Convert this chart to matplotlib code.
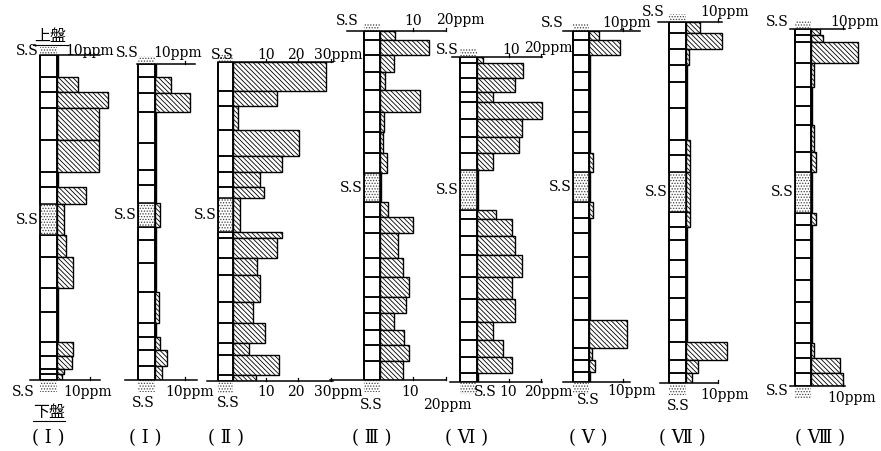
import numpy as np
import matplotlib.pyplot as plt
from matplotlib.patches import Rectangle
from matplotlib.lines import Line2D

plt.rcParams['font.family'] = ['DejaVu Serif', 'Noto Sans CJK JP']
plt.rcParams['hatch.linewidth'] = 0.6

W, H = 881, 451

# sample interval thickness (top -> bottom) and content (ppm) for each section
# ss_* = index of the S.S interval
thick_1 = [22, 15, 16, 32, 32, 15, 17, 31, 22, 31, 24, 30, 14, 13, 5, 6]
ppm_1 = [0.4, 6.3, 15.5, 12.7, 12.7, 0.4, 8.8, 2.1, 2.7, 4.8, 0.4, 0.4, 4.8, 4.5, 2.0, 1.5]
ss_1 = 7

thick_2 = [13, 16, 19, 31, 27, 15, 18, 24, 13, 23, 29, 31, 14, 13, 16, 14]
ppm_2 = [0.4, 5.3, 11.7, 0.4, 0.4, 0.4, 0.4, 1.7, 0.4, 0.4, 0.4, 1.3, 0.4, 1.7, 4.0, 2.3]
ss_2 = 7

thick_3 = [29, 15, 24, 26, 16, 15, 11, 34, 6, 20, 17, 27, 21, 20, 12, 20, 6]
ppm_3 = [28.6, 13.5, 1.5, 20.3, 15.0, 8.3, 9.5, 2.1, 15.0, 13.5, 7.4, 8.3, 6.2, 9.8, 4.9, 14.0, 7.2]
ss_3 = 7

thick_4 = [9, 15, 17, 18, 22, 20, 21, 20, 29, 15, 16, 25, 19, 20, 16, 17, 15, 16, 19]
ppm_4 = [4.6, 14.8, 4.3, 1.5, 12.0, 1.2, 1.0, 2.2, 0.3, 2.5, 10.0, 5.6, 7.0, 8.9, 8.0, 4.3, 7.4, 8.9, 7.0]
ss_4 = 8

thick_5 = [6, 15, 14, 10, 17, 18, 16, 17, 40, 9, 17, 19, 22, 22, 23, 18, 17, 16, 9]
ppm_5 = [2.0, 14.3, 11.9, 5.1, 20.3, 14.0, 13.1, 5.1, 0.3, 5.9, 11.0, 12.0, 14.0, 11.0, 11.9, 5.0, 8.1, 11.0, 0.3]
ss_5 = 8

thick_6 = [9, 15, 17, 18, 22, 20, 21, 19, 30, 16, 15, 24, 20, 21, 22, 28, 12, 12, 10]
ppm_6 = [3.0, 9.0, 0.4, 0.4, 0.4, 0.4, 0.4, 1.2, 0.3, 1.2, 0.4, 0.4, 0.4, 0.4, 0.4, 11.3, 1.0, 1.8, 0.4]
ss_6 = 8

thick_7 = [11, 16, 16, 17, 26, 32, 15, 17, 40, 15, 13, 20, 17, 21, 22, 22, 18, 13, 10]
ppm_7 = [4.4, 11.2, 1.0, 0.4, 0.4, 0.4, 1.2, 1.2, 1.2, 1.2, 0.4, 0.4, 0.4, 0.4, 0.4, 0.4, 12.8, 3.8, 1.9]
ss_7 = 8

thick_8 = [6, 7, 21, 24, 19, 19, 27, 20, 41, 12, 15, 18, 22, 22, 21, 20, 15, 15, 13]
ppm_8 = [2.8, 3.7, 14.7, 1.0, 0.4, 0.4, 1.0, 1.5, 0.3, 1.5, 0.4, 0.4, 0.4, 0.4, 0.4, 0.4, 0.9, 9.0, 10.0]
ss_8 = 8

section_names = ['( Ⅰ )', '( Ⅰ )', '( Ⅱ )', '( Ⅲ )', '( Ⅵ )', '( Ⅴ )', '( Ⅶ )', '( Ⅷ )']
scale_ticks = [[10], [10], [10, 20, 30], [10, 20], [10, 20], [10], [10], [10]]

# panel placement in pixels: strip left, zero line, top, bottom, px per ppm,
# top scale line (l, r), bottom scale line (l, r)
layout = [
    dict(left=40, zero=57, top=55, bot=380, s=3.3, tl=(40, 100), bl=(30, 100)),
    dict(left=138, zero=155, top=64, bot=380, s=3.0, tl=(137, 195), bl=(125, 197)),
    dict(left=218, zero=233, top=62, bot=381, s=3.25, tl=(218, 333), bl=(207, 333)),
    dict(left=364, zero=380, top=31, bot=380, s=3.3, tl=(347, 446), bl=(330, 446)),
    dict(left=460, zero=477, top=57, bot=382, s=3.2, tl=(452, 542), bl=(450, 542)),
    dict(left=573, zero=589, top=31, bot=382, s=3.4, tl=(563, 640), bl=(563, 630)),
    dict(left=669, zero=686, top=22, bot=383, s=3.2, tl=(658, 722), bl=(660, 718)),
    dict(left=795, zero=811, top=29, bot=386, s=3.2, tl=(790, 845), bl=(790, 845)),
]

sections = [
    (thick_1, ppm_1, ss_1), (thick_2, ppm_2, ss_2), (thick_3, ppm_3, ss_3),
    (thick_4, ppm_4, ss_4), (thick_5, ppm_5, ss_5), (thick_6, ppm_6, ss_6),
    (thick_7, ppm_7, ss_7), (thick_8, ppm_8, ss_8),
]

fig = plt.figure(figsize=(W / 100, H / 100), dpi=100)
fig.patch.set_facecolor('white')


def ftext(x, y, s, size=10, **kw):
    kw.setdefault('ha', 'center')
    fig.text(x / W, 1 - y / H, s, va='center', fontsize=size, **kw)


def stipple(ax, x, y, w, h):
    ax.add_patch(Rectangle((x, y), w, h, facecolor='white', edgecolor='0.25',
                           hatch='......', lw=0, clip_on=False))


for (th, vals, ss), lay, ticks in zip(sections, layout, scale_ticks):
    zero, s = lay['zero'], lay['s']
    right = max(lay['tl'][1], lay['bl'][1], zero + s * max(vals)) + 3
    left = min(lay['tl'][0], lay['bl'][0]) - 2
    ax = fig.add_axes([left / W, 1 - lay['bot'] / H, (right - left) / W,
                       (lay['bot'] - lay['top']) / H])
    ax.set_xlim((left - zero) / s, (right - zero) / s)
    depth = np.concatenate([[0], np.cumsum(th)])
    total = depth[-1]
    ax.set_ylim(total, 0)
    ax.axis('off')
    sw = (zero - lay['left']) / s

    for i, v in enumerate(vals):
        y0, h = depth[i], th[i]
        if i == ss:
            stipple(ax, -sw, y0, sw, h)
            ax.add_patch(Rectangle((-sw, y0), sw, h, fill=False, edgecolor='black', lw=0.6))
        else:
            ax.add_patch(Rectangle((-sw, y0), sw, h, fill=False, edgecolor='black', lw=1.1))
        ax.add_patch(Rectangle((0, y0), v, h, facecolor='white', edgecolor='black',
                               hatch='\\' * 7, lw=1.0))
    ax.plot([-sw, -sw], [0, total], color='black', lw=1.3)
    ax.plot([0, 0], [0, total], color='black', lw=1.1)

    # scale lines at top and bottom
    for yy, (l, r) in [(0, lay['tl']), (total, lay['bl'])]:
        ax.plot([(l - zero) / s, (r - zero) / s], [yy, yy], color='black', lw=1.1, clip_on=False)
        for t in ticks:
            ax.plot([t, t], [yy, yy - 3], color='black', lw=0.9, clip_on=False)

    # stippled S.S marks above and below the strip
    stipple(ax, -sw, -8, sw, 8)
    stipple(ax, -sw, total, sw, 12)

    # S.S label beside the S.S interval
    ax.text(-sw - 0.4, depth[ss] + th[ss] / 2, 'S.S', ha='right', va='center', fontsize=10)

# section I
ftext(50, 36, '上盤', size=11.5)
fig.add_artist(Line2D([33 / W, 68 / W], [1 - 45 / H, 1 - 45 / H], color='black', lw=0.8))
ftext(27, 51, 'S.S')
ftext(90, 51, '10ppm')
ftext(23, 392, 'S.S')
ftext(88, 392, '10ppm')
ftext(49, 412, '下盤', size=11.5)
fig.add_artist(Line2D([33 / W, 65 / W], [1 - 421 / H, 1 - 421 / H], color='black', lw=0.8))

# section I (second)
ftext(127, 53, 'S.S')
ftext(178, 53, '10ppm')
ftext(143, 403, 'S.S')
ftext(190, 392, '10ppm')

# section II
ftext(222, 55, 'S.S')
ftext(266, 55, '10')
ftext(296, 55, '20')
ftext(314, 55, '30ppm', ha='left')
ftext(228, 403, 'S.S')
ftext(266, 392, '10')
ftext(296, 392, '20')
ftext(314, 392, '30ppm', ha='left')

# section III
ftext(347, 21, 'S.S')
ftext(413, 21, '10')
ftext(460, 20, '20ppm')
ftext(371, 405, 'S.S')
ftext(410, 392, '10')
ftext(447, 405, '20ppm')

# section VI
ftext(447, 50, 'S.S')
ftext(511, 50, '10')
ftext(548, 48, '20ppm')
ftext(485, 392, 'S.S')
ftext(508, 392, '10')
ftext(548, 392, '20ppm')

# section V
ftext(552, 23, 'S.S')
ftext(627, 23, '10ppm')
ftext(588, 400, 'S.S')
ftext(632, 391, '10ppm')

# section VII
ftext(653, 12, 'S.S')
ftext(725, 12, '10ppm')
ftext(678, 406, 'S.S')
ftext(725, 395, '10ppm')

# section VIII
ftext(777, 22, 'S.S')
ftext(855, 22, '10ppm')
ftext(777, 391, 'S.S')
ftext(852, 398, '10ppm')

# section names
name_x = [48, 145, 226, 372, 467, 588, 682, 820]
for x, name in zip(name_x, section_names):
    ftext(x, 438, name, size=13)

fig.savefig('out.png', dpi=100)
